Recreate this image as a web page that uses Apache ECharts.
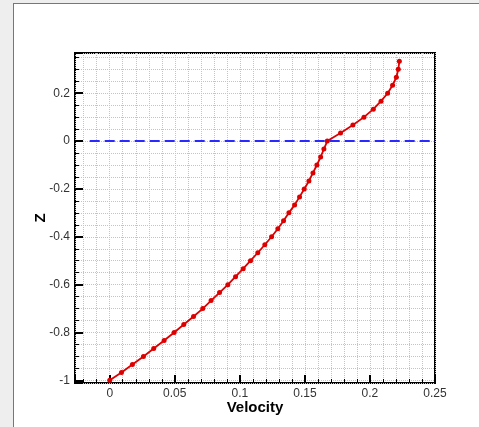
<!DOCTYPE html>
<html>
<head>
<meta charset="utf-8">
<script src="https://cdn.jsdelivr.net/npm/echarts@6/dist/echarts.min.js"></script>
<style>
  html, body { margin: 0; padding: 0; width: 479px; height: 427px; overflow: hidden; background: #eeeeee; }
  #panel { position: absolute; left: 13px; top: 3px; width: 480px; height: 440px; background: #fff; border: 1px solid #777; }
  #chart-container { position: absolute; left: 0; top: 0; width: 479px; height: 427px; }
</style>
</head>
<body>
<div id="panel"></div>
<div id="chart-container"></div>
<script>
// velocity profile, z from -1 to 1/3 in steps of 1/30
var zValues = [
  -1.0, -0.9667, -0.9333, -0.9, -0.8667, -0.8333, -0.8, -0.7667, -0.7333, -0.7,
  -0.6667, -0.6333, -0.6, -0.5667, -0.5333, -0.5, -0.4667, -0.4333, -0.4, -0.3667,
  -0.3333, -0.3, -0.2667, -0.2333, -0.2, -0.1667, -0.1333, -0.1, -0.0667, -0.0333,
  0.0, 0.0333, 0.0667, 0.1, 0.1333, 0.1667, 0.2, 0.2333, 0.2667, 0.3, 0.3333
];
var velocity = [
  0.0, 0.009, 0.0174, 0.0259, 0.0338, 0.0418, 0.0495, 0.0569, 0.0644, 0.0715,
  0.0779, 0.0844, 0.0908, 0.0967, 0.1026, 0.1082, 0.1138, 0.1192, 0.1244, 0.1292,
  0.1336, 0.1377, 0.1421, 0.1459, 0.1495, 0.1531, 0.1562, 0.1592, 0.1621, 0.1646,
  0.1672, 0.1774, 0.1869, 0.1954, 0.2026, 0.2085, 0.2136, 0.2174, 0.2203, 0.2218, 0.2226
];
var refLineX = [-0.0154, 0.25];
var refLineZ = [0, 0];

var profileData = velocity.map(function (v, i) { return [v, zValues[i]]; });
var refData = refLineX.map(function (v, i) { return [v, refLineZ[i]]; });

var dom = document.getElementById("chart-container");
var myChart = echarts.init(dom, null, { renderer: "canvas" });

var gridLine = { show: true, lineStyle: { color: "#c4c4c4", type: [1, 1], width: 1 } };

var option = {
  animation: false,
  grid: {
    left: 75, right: 44, top: 53, bottom: 44,
    show: true, borderColor: "#000", borderWidth: 2,
    backgroundColor: "transparent",
  },
  xAxis: {
    type: "value",
    min: -0.0267, max: 0.25,
    minInterval: 0.05, maxInterval: 0.05,
    name: "Velocity",
    nameLocation: "middle",
    nameGap: 17,
    nameMoveOverlap: false,
    nameTextStyle: { fontFamily: "Liberation Sans", fontWeight: "bold", fontSize: 15, color: "#000" },
    axisLine: { show: false, onZero: false },
    axisTick: { inside: true, length: 8, lineStyle: { color: "#000", width: 2 } },
    minorTick: { show: true, splitNumber: 5, length: 4, lineStyle: { color: "#000", width: 1 } },
    splitLine: gridLine,
    minorSplitLine: gridLine,
    axisLabel: {
      showMinLabel: false,
      margin: 5,
      fontFamily: "Liberation Sans", fontSize: 12, color: "#333",
      formatter: function (v) { return String(+v.toFixed(3)); },
    },
  },
  yAxis: {
    type: "value",
    min: -1.011, max: 0.368,
    minInterval: 0.2, maxInterval: 0.2,
    name: "Z",
    nameLocation: "middle",
    nameGap: 27,
    nameMoveOverlap: false,
    nameRotate: 90,
    nameTextStyle: { fontFamily: "Liberation Sans", fontWeight: "bold", fontSize: 15, color: "#000" },
    axisLine: { show: false, onZero: false },
    axisTick: { inside: true, length: 8, lineStyle: { color: "#000", width: 2 } },
    minorTick: { show: true, splitNumber: 4, length: 4, lineStyle: { color: "#000", width: 1 } },
    splitLine: gridLine,
    minorSplitLine: gridLine,
    axisLabel: {
      showMinLabel: false, showMaxLabel: false,
      margin: 5,
      fontFamily: "Liberation Sans", fontSize: 12, color: "#333",
      formatter: function (v) { return String(+v.toFixed(3)); },
    },
  },
  series: [
    {
      type: "line",
      data: refData,
      symbol: "none",
      lineStyle: { color: "#2a2aff", width: 2, type: [10, 5] },
      z: 2,
    },
    {
      type: "line",
      data: profileData,
      symbol: "circle",
      symbolSize: 5,
      itemStyle: { color: "#dd0000" },
      lineStyle: { color: "#dd0000", width: 1.8 },
      z: 3,
    },
  ],
};

myChart.setOption(option);
window.addEventListener("resize", myChart.resize);
</script>
</body>
</html>
